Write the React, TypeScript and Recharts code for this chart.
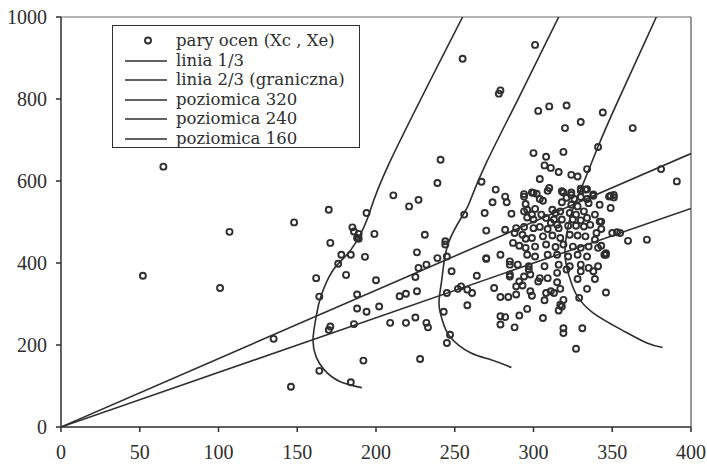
import React from 'react';
import { ScatterChart, Scatter, XAxis, YAxis, ReferenceLine, Legend } from 'recharts';

const INK = '#2e2e2e';
const FONT = '"Liberation Serif", "Times New Roman", serif';
const LEGEND_FONT = '"DejaVu Serif", "Liberation Serif", serif';

const xTicks = [0, 50, 100, 150, 200, 250, 300, 350, 400];
const yTicks = [0, 200, 400, 600, 800, 1000];

const legendLabels = [
  'pary ocen (Xc , Xe)',
  'linia 1/3',
  'linia 2/3 (graniczna)',
  'poziomica 320',
  'poziomica 240',
  'poziomica 160',
];

// (Xc, Xe) pairs
const pairs: [number, number][] = [
  [65, 635], [107, 476], [148, 499], [170, 530], [185, 487], [52, 369], [101, 339], [135, 215], [146, 98],
  [162, 363], [164, 318], [164, 137], [171, 449], [176, 398], [178, 420], [184, 420], [181, 371], [171, 245],
  [170, 237], [186, 251], [188, 323], [188, 289], [184, 109], [186, 477], [188, 461],
  [194, 522], [189, 471], [189, 459], [199, 471], [193, 415], [200, 358], [194, 281], [202, 294], [192, 162],
  [211, 565], [221, 538], [227, 554], [239, 595], [241, 652], [231, 469], [244, 453], [244, 445], [226, 426],
  [239, 412], [245, 416], [227, 388], [232, 396], [225, 366], [226, 331], [219, 325], [215, 319], [248, 380],
  [209, 254], [219, 254], [225, 267], [232, 254], [233, 243], [228, 166], [245, 327], [243, 281], [247, 225],
  [245, 205], [252, 337], [254, 343], [258, 335], [261, 327], [258, 297], [264, 369], [256, 518], [269, 522],
  [270, 479], [270, 412], [267, 598],
  [301, 932], [255, 898], [279, 821], [278, 813], [303, 771], [310, 782], [321, 784], [320, 729], [330, 744],
  [344, 767], [363, 729], [300, 668], [319, 671], [308, 659], [341, 683], [307, 638], [311, 632], [316, 622],
  [324, 615], [328, 611], [334, 629], [304, 605], [276, 579], [309, 576], [282, 562], [294, 568], [299, 572],
  [302, 569], [319, 572], [324, 566], [330, 576], [333, 579], [338, 564], [349, 564], [351, 566],
  [381, 629], [391, 599],
  [349, 534], [343, 501], [360, 454], [372, 457], [350, 473], [355, 473], [346, 420], [346, 328], [339, 361],
  [334, 337], [329, 315], [328, 361], [306, 266], [319, 310], [318, 294], [319, 241], [319, 229], [331, 241],
  [327, 191],
  [275, 339], [279, 317], [284, 317], [289, 343], [293, 345], [289, 323], [279, 270], [282, 268], [279, 250],
  [288, 243], [291, 272], [296, 288], [298, 331], [299, 320], [307, 309], [308, 327], [311, 331], [313, 327],
  [315, 353], [317, 337], [316, 284], [317, 298], [309, 363], [315, 376], [304, 363], [303, 355], [298, 372],
  [297, 384], [294, 367], [285, 372], [285, 396], [290, 396], [297, 392], [307, 392], [316, 396], [323, 392],
  [330, 396], [335, 388], [341, 392], [338, 380], [330, 380], [321, 384],
  [274, 548], [283, 548], [286, 520], [310, 583], [304, 556], [306, 552], [295, 544], [296, 530], [301, 532],
  [299, 518], [305, 518], [312, 530], [314, 522], [318, 575], [324, 572], [330, 581], [334, 580], [338, 567],
  [321, 559], [326, 556], [330, 561], [334, 556], [342, 542], [348, 562], [351, 560], [318, 548], [324, 542],
  [328, 538], [335, 546], [332, 526], [339, 518], [317, 526], [323, 522], [327, 518], [313, 506], [318, 506],
  [325, 506], [330, 504], [334, 510], [342, 501], [343, 483], [294, 526], [296, 511], [300, 506], [308, 510],
  [311, 498], [315, 493], [322, 491], [327, 491], [332, 489], [336, 493], [340, 473], [353, 475], [289, 485],
  [294, 488], [288, 473], [293, 469], [300, 485], [304, 488], [309, 483], [316, 485], [299, 461], [306, 465],
  [312, 467], [317, 461], [323, 469], [328, 467], [333, 465], [339, 457], [343, 442], [346, 424], [287, 449],
  [291, 442], [295, 437], [301, 440], [308, 445], [314, 439], [319, 445], [325, 440], [330, 437], [335, 440],
  [341, 437], [296, 420], [301, 416], [309, 420], [315, 420], [322, 416], [328, 420], [334, 416], [345, 420],
  [279, 420], [285, 404], [294, 562], [300, 571], [295, 459], [282, 481], [285, 367], [291, 355], [270, 410],
];

const line13: [number, number][] = [[0, 0], [400, 667]];
const line23: [number, number][] = [[0, 0], [400, 533]];

const iso320: [number, number][] = [
  [382, 194], [372, 205], [356, 237], [338, 278], [328, 318], [324, 352], [321, 391], [320, 430],
  [321, 470], [324, 520], [330, 579], [341, 684], [353, 790], [378, 1000],
];
const iso240: [number, number][] = [
  [286, 145], [273, 164], [260, 181], [247, 220], [242, 262], [240, 303], [242, 366], [246, 449],
  [256, 522], [260, 554], [270, 644], [290, 798], [316, 1000],
];
const iso160: [number, number][] = [
  [191, 96], [177, 111], [167, 140], [162, 171], [160, 213], [162, 269], [165, 318], [173, 384],
  [184, 432], [195, 513], [208, 640], [255, 1000],
];

const toPts = (a: [number, number][]) => a.map(([x, y]) => ({ x, y }));

const Ring = (props: any) => {
  const { cx, cy } = props;
  if (cx == null || cy == null) return <g />;
  return <circle cx={cx} cy={cy} r={3} fill="none" stroke={INK} strokeWidth={1.9} />;
};
const NoShape = () => <g />;

const LegendBox = () => (
  <div
    style={{
      boxSizing: 'border-box',
      width: 248,
      height: 123,
      border: `1px solid ${INK}`,
      background: '#fff',
      paddingTop: 5,
      fontFamily: LEGEND_FONT,
      fontSize: 16.5,
      color: INK,
    }}
  >
    {legendLabels.map((lab, i) => (
      <div key={lab} style={{ display: 'flex', alignItems: 'center', height: 19.5 }}>
        <svg width={60} height={19} style={{ flex: 'none' }}>
          {i === 0 ? (
            <circle cx={35} cy={9.5} r={3} fill="none" stroke={INK} strokeWidth={1.9} />
          ) : (
            <line x1={12} x2={54} y1={10} y2={10} stroke={INK} strokeWidth={1.6} />
          )}
        </svg>
        <span style={{ marginLeft: 3, whiteSpace: 'nowrap', lineHeight: '19px' }}>{lab}</span>
      </div>
    ))}
  </div>
);

export default function App() {
  const tickStyle = { fill: INK, fontSize: 20, fontFamily: FONT };
  return (
    <div style={{ position: 'absolute', left: 0, top: 0, background: '#fff' }}>
      <ScatterChart width={707} height={464} margin={{ top: 17, right: 16, bottom: 0, left: 0 }}>
        <XAxis
          type="number"
          dataKey="x"
          domain={[0, 400]}
          ticks={xTicks}
          interval={0}
          height={37}
          tickSize={5}
          tickMargin={13}
          tick={tickStyle}
          stroke={INK}
          strokeWidth={1.5}
          allowDataOverflow
        />
        <YAxis
          type="number"
          dataKey="y"
          domain={[0, 1000]}
          ticks={yTicks}
          interval={0}
          width={61}
          tickSize={5}
          tickMargin={9}
          tick={tickStyle}
          stroke={INK}
          strokeWidth={1.5}
          allowDataOverflow
        />
        <ReferenceLine y={1000} stroke="#666" strokeWidth={1} />
        <ReferenceLine x={400} stroke="#555" strokeWidth={1.2} />
        <Scatter name="linia 1/3" data={toPts(line13)} line={{ stroke: INK, strokeWidth: 1.6 }} shape={NoShape} isAnimationActive={false} />
        <Scatter name="linia 2/3" data={toPts(line23)} line={{ stroke: INK, strokeWidth: 1.6 }} shape={NoShape} isAnimationActive={false} />
        <Scatter name="poziomica 320" data={toPts(iso320)} line={{ stroke: INK, strokeWidth: 1.6 }} lineJointType="natural" shape={NoShape} isAnimationActive={false} />
        <Scatter name="poziomica 240" data={toPts(iso240)} line={{ stroke: INK, strokeWidth: 1.6 }} lineJointType="natural" shape={NoShape} isAnimationActive={false} />
        <Scatter name="poziomica 160" data={toPts(iso160)} line={{ stroke: INK, strokeWidth: 1.6 }} lineJointType="natural" shape={NoShape} isAnimationActive={false} />
        <Scatter name="pary ocen" data={toPts(pairs)} shape={Ring} isAnimationActive={false} />
        <Legend
          layout="horizontal"
          verticalAlign="middle"
          align="center"
          content={() => <LegendBox />}
          wrapperStyle={{ left: 112, top: 25, width: 248, height: 123 }}
        />
      </ScatterChart>
    </div>
  );
}
